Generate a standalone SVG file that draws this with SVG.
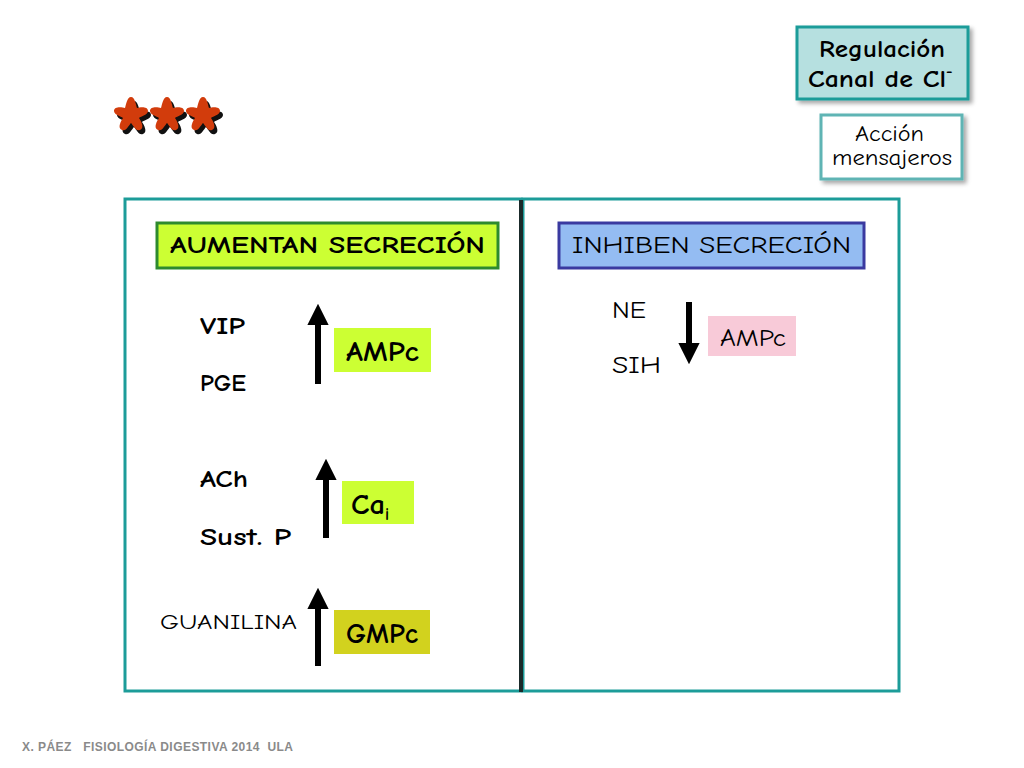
<svg xmlns="http://www.w3.org/2000/svg" width="1024" height="768" viewBox="0 0 1024 768">
<defs>
<style>
.t{font-family:"Comic Sans MS","Comic Neue","DejaVu Sans","Noto Sans",sans-serif;fill:#000}
.b{font-weight:bold}
.panel{fill:none;stroke:#1c9c99;stroke-width:3}
.arr{stroke:#000;stroke-width:6}
</style>
<marker id="ah" viewBox="0 0 10 10" refX="2" refY="5" markerWidth="3.6" markerHeight="3.8" orient="auto" markerUnits="strokeWidth">
<path d="M0,0 L10,5 L0,10 z" fill="#000"/>
</marker>
<path id="star" d="M0,-17 C4,-17 5,-9 6,-6 C9,-7 17,-8 17,-3 C17,1 10,2 8,4 C10,7 14,14 9,16 C5,18 2,11 0,9 C-2,11 -5,18 -9,16 C-14,14 -10,7 -8,4 C-10,2 -17,1 -17,-3 C-17,-8 -9,-7 -6,-6 C-5,-9 -4,-17 0,-17 Z"/>
<filter id="sh" x="-10%" y="-10%" width="130%" height="140%">
<feDropShadow dx="3" dy="3" stdDeviation="2" flood-color="#000" flood-opacity="0.35"/>
</filter>
</defs>
<rect width="1024" height="768" fill="#fff"/>

<g id="title">
<rect x="797" y="27" width="171" height="72" fill="#b6e0e0" stroke="#1c9c99" stroke-width="3" filter="url(#sh)"/>
<text class="t b" x="819" y="57" font-size="25" textLength="126" lengthAdjust="spacingAndGlyphs">Regulación</text>
<text class="t b" x="808" y="87" font-size="25"><tspan textLength="138" lengthAdjust="spacingAndGlyphs">Canal de Cl</tspan><tspan font-size="16" dy="-11">-</tspan></text>
</g>

<g id="accion">
<rect x="821" y="115" width="141" height="64" fill="#fff" stroke="#5fb4b4" stroke-width="3" filter="url(#sh)"/>
<text class="t" x="855" y="141" font-size="22" textLength="69" lengthAdjust="spacingAndGlyphs">Acción</text>
<text class="t" x="832" y="165" font-size="22" textLength="120" lengthAdjust="spacingAndGlyphs">mensajeros</text>
</g>

<g id="stars">
<g fill="#111" transform="translate(3,4)">
<use href="#star" x="131" y="114"/>
<use href="#star" x="167" y="114"/>
<use href="#star" x="203" y="114"/>
</g>
<g fill="#d23c0c">
<use href="#star" x="131" y="114"/>
<use href="#star" x="167" y="114"/>
<use href="#star" x="203" y="114"/>
</g>
</g>

<g id="panels">
<rect class="panel" x="125" y="199" width="396" height="492"/>
<rect class="panel" x="523" y="199" width="376" height="492"/>
<line x1="521" y1="200" x2="521" y2="692" stroke="#1a2a2a" stroke-width="4"/>
</g>

<g id="aumentan">
<rect x="157" y="223" width="341" height="45" fill="#ccff33" stroke="#2e8b2e" stroke-width="3"/>
<text class="t b" x="170" y="253" font-size="25" textLength="315" lengthAdjust="spacingAndGlyphs">AUMENTAN SECRECIÓN</text>
</g>

<g id="inhiben">
<rect x="559" y="223" width="305" height="45" fill="#94bcf2" stroke="#3a3aa0" stroke-width="3"/>
<text class="t" x="572" y="253" font-size="25" textLength="279" lengthAdjust="spacingAndGlyphs">INHIBEN SECRECIÓN</text>
</g>

<g id="vip-pge">
<text class="t b" x="200" y="334" font-size="24" textLength="45" lengthAdjust="spacingAndGlyphs">VIP</text>
<text class="t b" x="200" y="391" font-size="24" textLength="46" lengthAdjust="spacingAndGlyphs">PGE</text>
</g>
<g id="ampc-up">
<rect x="334" y="328" width="97" height="44" fill="#ccff33"/>
<text class="t b" x="346" y="361" font-size="28" textLength="73" lengthAdjust="spacingAndGlyphs">AMPc</text>
</g>

<g id="ach-sustp">
<text class="t b" x="200" y="487" font-size="24" textLength="48" lengthAdjust="spacingAndGlyphs">ACh</text>
<text class="t b" x="200" y="545" font-size="24" textLength="91" lengthAdjust="spacingAndGlyphs">Sust. P</text>
</g>
<g id="cai">
<rect x="342" y="481" width="72" height="43" fill="#ccff33"/>
<text class="t b" x="351" y="514" font-size="28"><tspan textLength="34" lengthAdjust="spacingAndGlyphs">Ca</tspan><tspan font-size="17" dy="6">i</tspan></text>
</g>

<g id="guanilina">
<text class="t" x="160" y="629" font-size="21" textLength="137" lengthAdjust="spacingAndGlyphs">GUANILINA</text>
</g>
<g id="gmpc">
<rect x="334" y="610" width="96" height="44" fill="#d2d21e"/>
<text class="t b" x="346" y="643" font-size="28" textLength="72" lengthAdjust="spacingAndGlyphs">GMPc</text>
</g>

<g id="ne-sih">
<text class="t" x="612" y="318" font-size="25" textLength="34" lengthAdjust="spacingAndGlyphs">NE</text>
<text class="t" x="612" y="373" font-size="25" textLength="49" lengthAdjust="spacingAndGlyphs">SIH</text>
</g>
<g id="ampc-down">
<rect x="708" y="316" width="88" height="40" fill="#f8cad8"/>
<text class="t" x="720" y="346" font-size="24" textLength="66" lengthAdjust="spacingAndGlyphs">AMPc</text>
</g>

<g id="connectors">
<line class="arr" x1="318" y1="384" x2="318" y2="321" marker-end="url(#ah)"/>
<line class="arr" x1="326" y1="538" x2="326" y2="476" marker-end="url(#ah)"/>
<line class="arr" x1="318" y1="666" x2="318" y2="605" marker-end="url(#ah)"/>
<line class="arr" x1="689" y1="302" x2="689" y2="347" marker-end="url(#ah)"/>
</g>

<text x="22" y="751" font-family="Liberation Sans, Arial, sans-serif" font-size="12" font-weight="bold" fill="#8a8a8a" textLength="271" lengthAdjust="spacing" xml:space="preserve">X. PÁEZ   FISIOLOGÍA DIGESTIVA 2014  ULA</text>
</svg>
